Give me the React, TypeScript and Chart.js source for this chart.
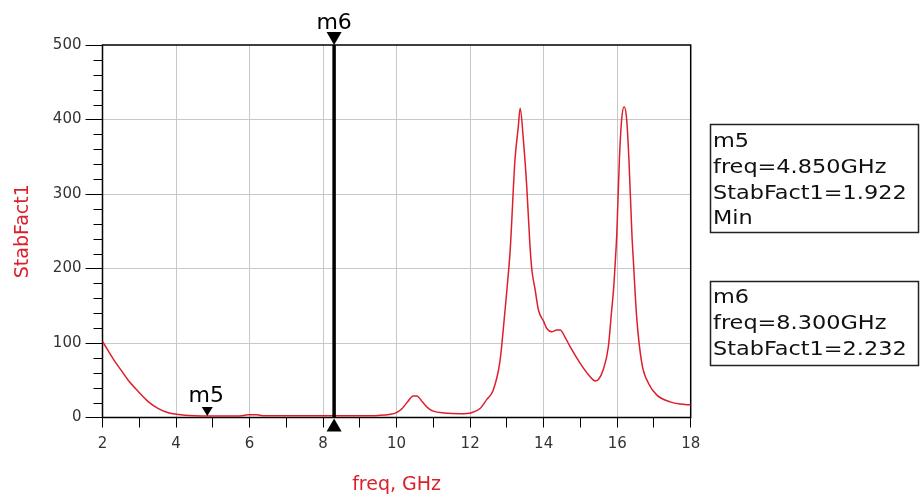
import React, { useEffect, useRef } from 'react';
import { Chart, registerables } from 'chart.js';

Chart.register(...registerables);

// ---- data ----
const freqGHz = [
  2.0, 2.15, 2.34, 2.5, 2.7, 2.97, 3.25, 3.52, 3.79, 4.02, 4.24, 4.5, 4.85, 5.3, 5.8, 5.95, 6.2, 6.35, 7.0, 8.3,
  9.0, 9.5, 9.8, 10.0, 10.15, 10.3, 10.45, 10.55, 10.7, 10.85, 11.0, 11.3, 11.73, 12.04, 12.27, 12.45, 12.63,
  12.81, 12.95, 13.0, 13.09, 13.22, 13.31, 13.36, 13.45, 13.54, 13.63, 13.68, 13.77, 13.86, 14.0, 14.08, 14.22,
  14.36, 14.45, 14.58, 14.72, 14.99, 15.26, 15.4, 15.49, 15.62, 15.76, 15.85, 15.9, 15.94, 15.99, 16.06, 16.12,
  16.19, 16.26, 16.32, 16.4, 16.44, 16.53, 16.67, 16.85, 17.08, 17.44, 17.71, 18.0,
];
const stabFact1 = [
  102, 90, 75, 64, 50, 35, 21, 12, 6.5, 4.3, 3, 2.3, 1.922, 2, 2.5, 3.8, 3.8, 2.5, 2.2, 2.232,
  2.3, 2.8, 4, 6.5, 12, 21, 29, 29, 21, 13, 8.5, 6, 5, 6.5, 12, 24, 37,
  75, 144, 171, 225, 346, 390, 415, 372, 310, 229, 198, 171, 144, 129, 120, 115,
  117.5, 117.5, 108, 95, 73, 55, 49, 51, 64, 95, 144, 171, 202, 247, 346, 399,
  417, 399, 346, 247, 211, 135, 73, 46, 30, 21, 18, 17,
];
const xRange = [2, 18];
const xTickStep = 1;
const yRange = [0, 500];
const yMajorStep = 100;
const yMinorStep = 20;
const xTitle = 'freq, GHz';
const yTitle = 'StabFact1';
const m5Marker = { name: 'm5', freq: 4.85, value: 1.922 };
const m6Marker = { name: 'm6', freq: 8.3, value: 2.232 };
const m5Lines = ['m5', 'freq=4.850GHz', 'StabFact1=1.922', 'Min'];
const m6Lines = ['m6', 'freq=8.300GHz', 'StabFact1=2.232'];

const RED = '#dc1f2b';
const GRID = '#c8c8c8';
const FONT = 'DejaVu Sans';

function drawStretchedText(ctx: CanvasRenderingContext2D, t: string, x: number, y: number, sx: number) {
  ctx.save();
  ctx.translate(x, y);
  ctx.scale(sx, 1);
  ctx.fillText(t, 0, 0);
  ctx.restore();
}

const adsPlugin = {
  id: 'adsDecor',
  beforeDatasetsDraw(chart: any) {
    const { ctx, chartArea: a, scales } = chart;
    const ys = scales.y;
    ctx.save();
    ctx.strokeStyle = '#000';
    ctx.lineWidth = 1;
    for (let v = yRange[0]; v <= yRange[1]; v += yMinorStep) {
      if (v % yMajorStep === 0) continue;
      const py = Math.round(ys.getPixelForValue(v)) + 0.5;
      ctx.beginPath();
      ctx.moveTo(a.left - 9, py);
      ctx.lineTo(a.left, py);
      ctx.stroke();
    }
    ctx.lineWidth = 1.5;
    ctx.strokeRect(a.left, a.top, a.right - a.left, a.bottom - a.top);
    ctx.restore();
  },
  afterDatasetsDraw(chart: any) {
    const { ctx, chartArea: a, scales } = chart;
    const xs = scales.x;
    const ys = scales.y;
    ctx.save();
    ctx.fillStyle = '#000';
    ctx.strokeStyle = '#000';

    // m6 vertical marker line
    const x6 = xs.getPixelForValue(m6Marker.freq);
    ctx.lineWidth = 3.5;
    ctx.beginPath();
    ctx.moveTo(x6, a.top);
    ctx.lineTo(x6, a.bottom);
    ctx.stroke();
    ctx.beginPath();
    ctx.moveTo(x6 - 7.5, a.top - 13);
    ctx.lineTo(x6 + 7.5, a.top - 13);
    ctx.lineTo(x6, a.top);
    ctx.closePath();
    ctx.fill();
    ctx.beginPath();
    ctx.moveTo(x6, a.bottom + 1);
    ctx.lineTo(x6 + 7.5, a.bottom + 14);
    ctx.lineTo(x6 - 7.5, a.bottom + 14);
    ctx.closePath();
    ctx.fill();
    ctx.font = `22px "${FONT}"`;
    ctx.textAlign = 'center';
    ctx.textBaseline = 'alphabetic';
    ctx.fillText(m6Marker.name, x6, a.top - 16);

    // m5 point marker
    const x5 = xs.getPixelForValue(m5Marker.freq);
    const y5 = ys.getPixelForValue(m5Marker.value);
    ctx.beginPath();
    ctx.moveTo(x5 - 5.5, y5 - 9);
    ctx.lineTo(x5 + 5.5, y5 - 9);
    ctx.lineTo(x5, y5);
    ctx.closePath();
    ctx.fill();
    ctx.fillText(m5Marker.name, x5 - 1, y5 - 14);

    // readout boxes
    ctx.lineWidth = 1.5;
    ctx.strokeStyle = '#222';
    ctx.fillStyle = '#111';
    ctx.font = `20px "${FONT}"`;
    ctx.textAlign = 'left';
    const boxes = [
      { lines: m5Lines, x: 710, y: 124, w: 208, h: 108, first: 147 },
      { lines: m6Lines, x: 710, y: 281, w: 208, h: 84, first: 303 },
    ];
    for (const b of boxes) {
      ctx.strokeRect(b.x + 0.5, b.y + 0.5, b.w, b.h);
      b.lines.forEach((t, i) => drawStretchedText(ctx, t, b.x + 3, b.first + i * 25.8, 1.12));
    }
    ctx.restore();
  },
};

export default function App() {
  const ref = useRef<HTMLCanvasElement | null>(null);
  useEffect(() => {
    if (!ref.current) return;
    const points = freqGHz.map((f, i) => ({ x: f, y: stabFact1[i] }));
    const chart = new Chart(ref.current, {
      type: 'line',
      data: {
        datasets: [
          {
            label: yTitle,
            data: points,
            borderColor: RED,
            borderWidth: 1.5,
            pointRadius: 0,
            cubicInterpolationMode: 'monotone',
            fill: false,
          },
        ],
      },
      options: {
        animation: false,
        responsive: true,
        maintainAspectRatio: false,
        layout: { padding: { left: 0, top: 45, right: 232.3, bottom: 0 } },
        plugins: { legend: { display: false }, tooltip: { enabled: false } },
        scales: {
          x: {
            type: 'linear',
            min: xRange[0],
            max: xRange[1],
            afterFit: (s: any) => { s.height = 84.5; },
            ticks: {
              stepSize: xTickStep,
              autoSkip: false,
              maxRotation: 0,
              padding: 8,
              color: '#333',
              font: { family: FONT, size: 15 },
              callback: (v: any) => (Number(v) % 2 === 0 ? String(v) : ''),
            },
            grid: {
              color: (c: any) => {
                const v = c.tick ? c.tick.value : 0;
                return v % 2 === 0 && v > xRange[0] && v < xRange[1] ? GRID : 'rgba(0,0,0,0)';
              },
              tickColor: '#000',
              tickLength: 10,
              lineWidth: 1,
            },
            border: { display: false },
            title: {
              display: true,
              text: xTitle,
              color: RED,
              font: { family: FONT, size: 19 },
              padding: { top: 0, bottom: 6 },
            },
          },
          y: {
            type: 'linear',
            min: yRange[0],
            max: yRange[1],
            afterFit: (s: any) => { s.width = 102.5; },
            ticks: {
              stepSize: yMajorStep,
              padding: 4,
              color: '#333',
              font: { family: FONT, size: 15 },
            },
            grid: {
              color: (c: any) => {
                const v = c.tick ? c.tick.value : 0;
                return v > yRange[0] && v < yRange[1] ? GRID : 'rgba(0,0,0,0)';
              },
              tickColor: '#000',
              tickLength: 17,
              lineWidth: 1,
            },
            border: { display: false },
            title: {
              display: true,
              text: yTitle,
              color: RED,
              font: { family: FONT, size: 19 },
              padding: { top: 12, bottom: 0 },
            },
          },
        },
      },
      plugins: [adsPlugin],
    });
    return () => chart.destroy();
  }, []);
  return (
    <div style={{ position: 'absolute', left: 0, top: 0, width: 923, height: 502, background: '#fff' }}>
      <canvas ref={ref} style={{ display: 'block' }} />
    </div>
  );
}
